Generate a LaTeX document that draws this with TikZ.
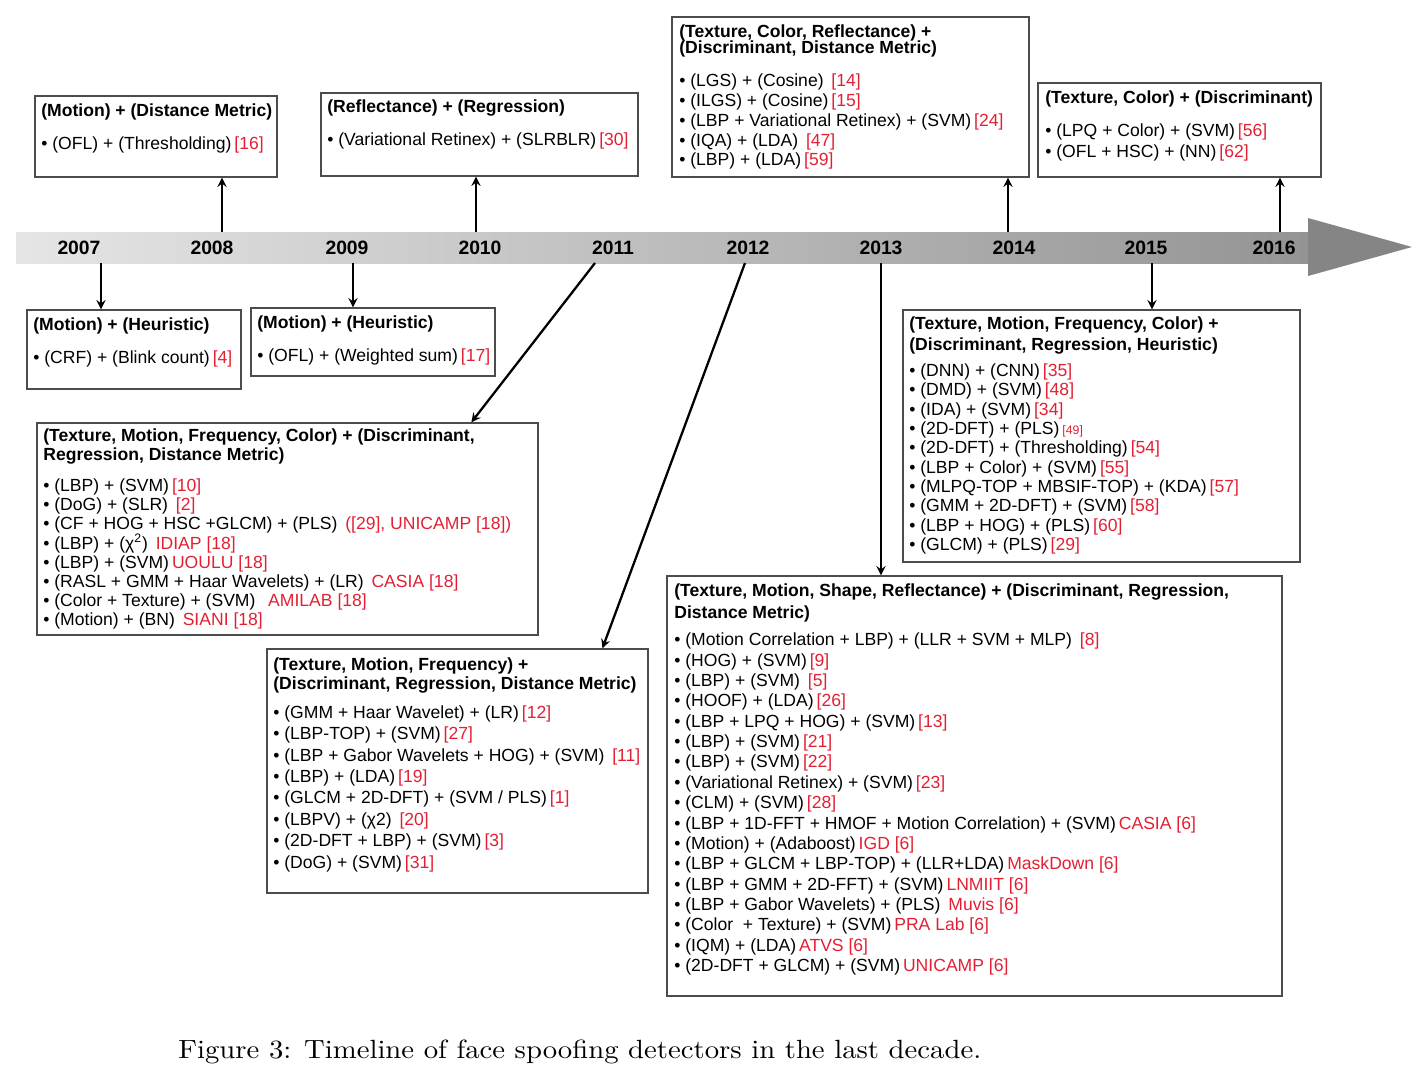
\documentclass[tikz,border=0pt]{standalone}
\usepackage{fontspec}
\setsansfont{Liberation Sans}
\newfontfamily\capfont[FakeStretch=1.09]{lmroman10-regular.otf}
\usepackage{tikz}
\usetikzlibrary{arrows,positioning,calc,fit}

\definecolor{refred}{RGB}{226,32,52}
\newcommand{\rf}[1]{\,\textcolor{refred}{#1}}
\newcommand{\itm}{\textbullet\ }

\begin{document}
\begin{tikzpicture}[x=0.02cm, y=-0.02cm, >=stealth]
    \tikzset{
        box/.style={draw=black!70, line width=0.8pt, inner sep=0pt, rectangle},
        txt/.style={anchor=north west, inner sep=0pt, align=left, font=\sffamily\fontsize{10}{#1}\selectfont},
        txt/.default=11.2pt,
        year/.style={font=\sffamily\bfseries\fontsize{11}{13}\selectfont},
        link/.style={draw, ->, line width=1.3pt}
    }
    \useasboundingbox (0,0) rectangle (1421,1078);

    % Timeline band and head
    \shade[left color=black!10, right color=black!42] (16,232) rectangle (1309,263);
    \fill[black!48] (1308,218) -- (1412,247) -- (1308,276) -- cycle;
    \foreach \yr/\xx in {2007/79, 2008/212, 2009/347, 2010/480, 2011/613, 2012/748, 2013/881, 2014/1014, 2015/1146, 2016/1274}
        \node[year] (y\yr) at (\xx,248) {\yr};

    % Attachment points on the band
    \coordinate (up2008) at (222,232);
    \coordinate (up2010) at (476,232);
    \coordinate (up2014) at (1008,232);
    \coordinate (up2016) at (1280,232);
    \coordinate (dn2007) at (101,263);
    \coordinate (dn2009) at (353,263);
    \coordinate (dn2011) at (595,263);
    \coordinate (dn2012) at (745,263);
    \coordinate (dn2013) at (881,263);
    \coordinate (dn2015) at (1152,263);

    % Boxes above the timeline
    \node[box, fit={(35,96) (277,177)}] (b2008) {};
    \node[txt] (t2008) at (41,103) {\textbf{(Motion) + (Distance Metric)}\\[8pt]
        \itm(OFL) + (Thresholding)\rf{[16]}};

    \node[box, fit={(321,93) (638,176)}] (b2010) {};
    \node[txt] (t2010) at (327,99) {\textbf{(Reflectance) + (Regression)}\\[8pt]
        \itm(Variational Retinex) + (SLRBLR)\rf{[30]}};

    \node[box, fit={(672,17) (1029,177)}] (b2014) {};
    \node[txt] (t2014) at (679,24) {\textbf{(Texture, Color, Reflectance) +}\\[-2pt]
        \textbf{(Discriminant, Distance Metric)}\\[8pt]
        \itm(LGS) + (Cosine) \rf{[14]}\\
        \itm(ILGS) + (Cosine)\rf{[15]}\\
        \itm(LBP + Variational Retinex) + (SVM)\rf{[24]}\\
        \itm(IQA) + (LDA) \rf{[47]}\\
        \itm(LBP) + (LDA)\rf{[59]}};

    \node[box, fit={(1038,83) (1321,177)}] (b2016) {};
    \node[txt=12pt] (t2016) at (1045,90) {\textbf{(Texture, Color) + (Discriminant)}\\[7pt]
        \itm(LPQ + Color) + (SVM)\rf{[56]}\\
        \itm(OFL + HSC) + (NN)\rf{[62]}};

    % Boxes below the timeline
    \node[box, fit={(27,310) (241,389)}] (b2007) {};
    \node[txt] (t2007) at (33,317) {\textbf{(Motion) + (Heuristic)}\\[8pt]
        \itm(CRF) + (Blink count)\rf{[4]}};

    \node[box, fit={(251,308) (495,376)}] (b2009) {};
    \node[txt] (t2009) at (257,315) {\textbf{(Motion) + (Heuristic)}\\[8pt]
        \itm(OFL) + (Weighted sum)\rf{[17]}};

    \node[box, fit={(37,423) (538,635)}] (b2011) {};
    \node[txt=10.9pt] (t2011) at (43,428) {\textbf{(Texture, Motion, Frequency, Color) + (Discriminant,}\\
        \textbf{Regression, Distance Metric)}\\[7pt]
        \itm(LBP) + (SVM)\rf{[10]}\\
        \itm(DoG) + (SLR) \rf{[2]}\\
        \itm(CF + HOG + HSC +GLCM) + (PLS) \rf{([29], UNICAMP [18])}\\
        \itm(LBP) + (χ\textsuperscript{2}) \rf{IDIAP [18]}\\
        \itm(LBP) + (SVM)\rf{UOULU [18]}\\
        \itm(RASL + GMM + Haar Wavelets) + (LR) \rf{CASIA [18]}\\
        \itm(Color + Texture) + (SVM) \ \rf{AMILAB [18]}\\
        \itm(Motion) + (BN) \rf{SIANI [18]}};

    \node[box, fit={(267,649) (648,893)}] (b2012) {};
    \node[txt=12.2pt] (t2012) at (273,657) {\textbf{(Texture, Motion, Frequency) +}\\[-1pt]
        \textbf{(Discriminant, Regression, Distance Metric)}\\[4pt]
        \itm(GMM + Haar Wavelet) + (LR)\rf{[12]}\\
        \itm(LBP-TOP) + (SVM)\rf{[27]}\\
        \itm(LBP + Gabor Wavelets + HOG) + (SVM) \rf{[11]}\\
        \itm(LBP) + (LDA)\rf{[19]}\\
        \itm(GLCM + 2D-DFT) + (SVM / PLS)\rf{[1]}\\
        \itm(LBPV) + (χ2) \rf{[20]}\\
        \itm(2D-DFT + LBP) + (SVM)\rf{[3]}\\
        \itm(DoG) + (SVM)\rf{[31]}};

    \node[box, fit={(903,310) (1300,562)}] (b2015) {};
    \node[txt=11pt] (t2015) at (909,316) {\textbf{(Texture, Motion, Frequency, Color) +}\\[1pt]
        \textbf{(Discriminant, Regression, Heuristic)}\\[4pt]
        \itm(DNN) + (CNN)\rf{[35]}\\
        \itm(DMD) + (SVM)\rf{[48]}\\
        \itm(IDA) + (SVM)\rf{[34]}\\
        \itm(2D-DFT) + (PLS)\rf{{\scriptsize[49]}}\\
        \itm(2D-DFT) + (Thresholding)\rf{[54]}\\
        \itm(LBP + Color) + (SVM)\rf{[55]}\\
        \itm(MLPQ-TOP + MBSIF-TOP) + (KDA)\rf{[57]}\\
        \itm(GMM + 2D-DFT) + (SVM)\rf{[58]}\\
        \itm(LBP + HOG) + (PLS)\rf{[60]}\\
        \itm(GLCM) + (PLS)\rf{[29]}};

    \node[box, fit={(667,576) (1282,996)}] (b2013) {};
    \node[txt=11.6pt] (t2013) at (674,583) {\textbf{(Texture, Motion, Shape, Reflectance) + (Discriminant, Regression,}\\[1pt]
        \textbf{Distance Metric)}\\[4pt]
        \itm(Motion Correlation + LBP) + (LLR + SVM + MLP) \rf{[8]}\\
        \itm(HOG) + (SVM)\rf{[9]}\\
        \itm(LBP) + (SVM) \rf{[5]}\\
        \itm(HOOF) + (LDA)\rf{[26]}\\
        \itm(LBP + LPQ + HOG) + (SVM)\rf{[13]}\\
        \itm(LBP) + (SVM)\rf{[21]}\\
        \itm(LBP) + (SVM)\rf{[22]}\\
        \itm(Variational Retinex) + (SVM)\rf{[23]}\\
        \itm(CLM) + (SVM)\rf{[28]}\\
        \itm(LBP + 1D-FFT + HMOF + Motion Correlation) + (SVM)\rf{CASIA [6]}\\
        \itm(Motion) + (Adaboost)\rf{IGD [6]}\\
        \itm(LBP + GLCM + LBP-TOP) + (LLR+LDA)\rf{MaskDown [6]}\\
        \itm(LBP + GMM + 2D-FFT) + (SVM)\rf{LNMIIT [6]}\\
        \itm(LBP + Gabor Wavelets) + (PLS) \rf{Muvis [6]}\\
        \itm(Color \ + Texture) + (SVM)\rf{PRA Lab [6]}\\
        \itm(IQM) + (LDA)\rf{ATVS [6]}\\
        \itm(2D-DFT + GLCM) + (SVM)\rf{UNICAMP [6]}};

    % Connectors from the timeline
    \path[link] (up2008) -- (up2008 |- b2008.south);
    \path[link] (up2010) -- (up2010 |- b2010.south);
    \path[link] (up2014) -- (up2014 |- b2014.south);
    \path[link] (up2016) -- (up2016 |- b2016.south);
    \path[link] (dn2007) -- (dn2007 |- b2007.north);
    \path[link] (dn2009) -- (dn2009 |- b2009.north);
    \path[link] (dn2011) -- ($(b2011.north west)!0.866!(b2011.north east)$);
    \path[link] (dn2012) -- ($(b2012.north west)!0.879!(b2012.north east)$);
    \path[link] (dn2013) -- (dn2013 |- b2013.north);
    \path[link] (dn2015) -- (dn2015 |- b2015.north);

    % Caption
    \node[anchor=west, inner sep=0pt, font=\capfont\fontsize{15}{18}\selectfont] (caption) at (178,1052) {Figure 3: Timeline of face spoofing detectors in the last decade.};
\end{tikzpicture}
\end{document}
